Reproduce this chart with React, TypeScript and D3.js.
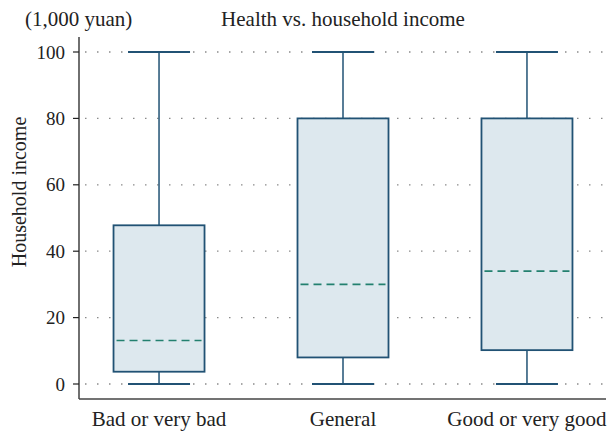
import React from "react";
import * as d3 from "d3";

const categories = ["Bad or very bad", "General", "Good or very good"];
const whiskerLow = [0, 0, 0];
const quartileLow = [3.7, 8, 10.2];
const medians = [13.1, 30, 34];
const quartileHigh = [47.8, 80, 80];
const whiskerHigh = [100, 100, 100];
const yTicks = [0, 20, 40, 60, 80, 100];

const W = 608;
const H = 434;
const axisX = 79;
const axisBottom = 399;
const font = "'Liberation Serif', 'Times New Roman', serif";

export default function App() {
  const y = d3.scaleLinear().domain([0, 100]).range([384, 52]);
  const x = d3.scalePoint<string>().domain(categories).range([axisX, 607]).padding(0.435);
  const boxW = 91;
  const capW = 62;
  const stroke = "#215274";
  const fill = "#dde8ee";

  return (
    <svg
      width={W}
      height={H}
      style={{ position: "absolute", left: 0, top: 0, background: "#fff" }}
      fontFamily={font}
    >
      {/* dotted gridlines */}
      {yTicks.map((t) => (
        <line
          key={"g" + t}
          x1={axisX + 6}
          x2={606}
          y1={y(t)}
          y2={y(t)}
          stroke="#8a8a8a"
          strokeWidth={1.3}
          strokeDasharray="1.5,10.5"
        />
      ))}

      {/* boxes */}
      {categories.map((c, i) => {
        const cx = x(c)!;
        return (
          <g key={c}>
            <line x1={cx} x2={cx} y1={y(whiskerHigh[i])} y2={y(quartileHigh[i])} stroke={stroke} strokeWidth={1.5} />
            <line x1={cx} x2={cx} y1={y(quartileLow[i])} y2={y(whiskerLow[i])} stroke={stroke} strokeWidth={1.5} />
            <line x1={cx - capW / 2} x2={cx + capW / 2} y1={y(whiskerHigh[i])} y2={y(whiskerHigh[i])} stroke={stroke} strokeWidth={1.8} />
            <line x1={cx - capW / 2} x2={cx + capW / 2} y1={y(whiskerLow[i])} y2={y(whiskerLow[i])} stroke={stroke} strokeWidth={1.8} />
            <rect
              x={cx - boxW / 2}
              y={y(quartileHigh[i])}
              width={boxW}
              height={y(quartileLow[i]) - y(quartileHigh[i])}
              fill={fill}
              stroke={stroke}
              strokeWidth={1.8}
            />
            <line
              x1={cx - boxW / 2 + 3}
              x2={cx + boxW / 2 - 3}
              y1={y(medians[i])}
              y2={y(medians[i])}
              stroke="#23806f"
              strokeWidth={1.6}
              strokeDasharray="8,5"
            />
          </g>
        );
      })}

      {/* axes */}
      <line x1={axisX} x2={axisX} y1={37} y2={axisBottom} stroke="#222" strokeWidth={1.3} />
      <line x1={axisX} x2={606} y1={axisBottom} y2={axisBottom} stroke="#444" strokeWidth={1.3} />
      {yTicks.map((t) => (
        <g key={"t" + t}>
          <line x1={axisX - 6} x2={axisX} y1={y(t)} y2={y(t)} stroke="#222" strokeWidth={1.2} />
          <text x={axisX - 14} y={y(t)} dy="0.35em" textAnchor="end" fontSize={19} fill="#222">
            {t}
          </text>
        </g>
      ))}
      {categories.map((c) => (
        <text key={"x" + c} x={x(c)!} y={426} textAnchor="middle" fontSize={21} fill="#222">
          {c}
        </text>
      ))}

      <text
        transform={`translate(26,192) rotate(-90)`}
        textAnchor="middle"
        fontSize={20}
        fill="#222"
      >
        Household income
      </text>
      <text x={25} y={26} fontSize={21} fill="#222">
        (1,000 yuan)
      </text>
      <text x={343} y={26} textAnchor="middle" fontSize={21} fill="#222">
        Health vs. household income
      </text>
    </svg>
  );
}
